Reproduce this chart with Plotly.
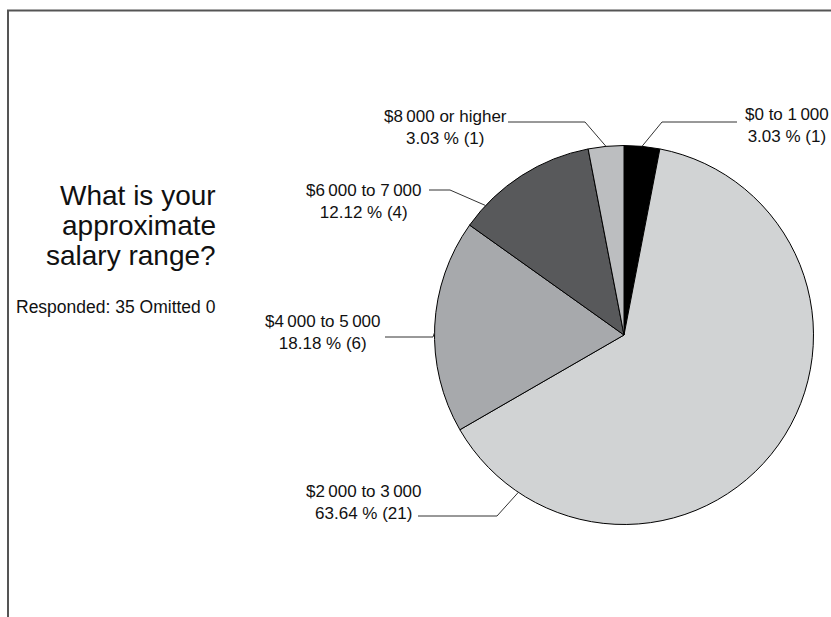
import math
import plotly.graph_objects as go

# ---- data ----
categories = ["$0 to 1\u2009000", "$2\u2009000 to 3\u2009000", "$4\u2009000 to 5\u2009000",
              "$6\u2009000 to 7\u2009000", "$8\u2009000 or higher"]
counts = [1, 21, 6, 4, 1]
percents = ["3.03 %", "63.64 %", "18.18 %", "12.12 %", "3.03 %"]
colors = ["#000000", "#d1d3d4", "#a7a9ac", "#58595b", "#bcbec0"]

title_lines = ["What is your", "approximate", "salary range?"]
subtitle = "Responded: 35 Omitted 0"

# ---- layout (pixels) ----
W, H = 831, 617
CX, CY, R = 624, 335, 189.5
# where along each slice the leader line starts (fraction of slice span)
anchor_frac = [0.5, 0.886, 0.47, 0.175, 0.5]
# elbow points and label end points for leader lines
elbows = [(662, 122), (497, 516), (433, 337), (450, 190), (585, 122)]
line_ends = [(737, 122), (418, 516), (385, 337), (429, 190), (508, 122)]
label_centers = [(787, 126), (364, 502), (323, 332), (364, 201), (445, 127)]


def px(x):
    return x / W


def py(y):
    return 1 - y / H


fig = go.Figure()
fig.add_trace(go.Pie(
    labels=categories,
    values=counts,
    sort=False,
    direction="clockwise",
    rotation=0,
    marker=dict(colors=colors, line=dict(color="#000000", width=1)),
    textinfo="none",
    hoverinfo="skip",
    showlegend=False,
    domain=dict(x=[px(CX - R), px(CX + R)], y=[py(CY + R), py(CY - R)]),
))

total = sum(counts)
shapes = []
annotations = []
cum = 0
for i, c in enumerate(counts):
    start = cum / total * 360
    span = c / total * 360
    cum += c
    a = math.radians(start + anchor_frac[i] * span)
    ax = CX + R * math.sin(a)
    ay = CY - R * math.cos(a)
    ex, ey = elbows[i]
    lx, ly = line_ends[i]
    path = f"M {px(ax)},{py(ay)} L {px(ex)},{py(ey)} L {px(lx)},{py(ly)}"
    shapes.append(dict(type="path", xref="paper", yref="paper", path=path,
                       line=dict(color="#333333", width=1)))
    tx, ty = label_centers[i]
    annotations.append(dict(
        x=px(tx), y=py(ty), xref="paper", yref="paper",
        text=f"{categories[i]}<br>{percents[i]} ({c})",
        showarrow=False, xanchor="center", yanchor="middle", align="center",
        font=dict(family="Liberation Sans, Arial, sans-serif", size=17, color="#111111"),
    ))

# title lines
for j, (t, yy) in enumerate(zip(title_lines, [195, 225, 255])):
    annotations.append(dict(
        x=px(218), y=py(yy), xref="paper", yref="paper", text=t,
        showarrow=False, xanchor="right", yanchor="middle",
        font=dict(family="Liberation Sans, Arial, sans-serif", size=28, color="#111111"),
    ))
annotations.append(dict(
    x=px(218), y=py(307), xref="paper", yref="paper", text=subtitle,
    showarrow=False, xanchor="right", yanchor="middle",
    font=dict(family="Liberation Sans, Arial, sans-serif", size=17.5, color="#111111"),
))

# frame lines
shapes.append(dict(type="line", xref="paper", yref="paper",
                   x0=px(7), y0=py(10.5), x1=1.0, y1=py(10.5),
                   line=dict(color="#555555", width=2)))
shapes.append(dict(type="line", xref="paper", yref="paper",
                   x0=px(8), y0=py(10), x1=px(8), y1=0.0,
                   line=dict(color="#555555", width=2)))

fig.update_layout(
    width=W, height=H,
    margin=dict(l=0, r=0, t=0, b=0),
    paper_bgcolor="white", plot_bgcolor="white",
    shapes=shapes, annotations=annotations,
    showlegend=False,
)

fig.write_html("out.html")
